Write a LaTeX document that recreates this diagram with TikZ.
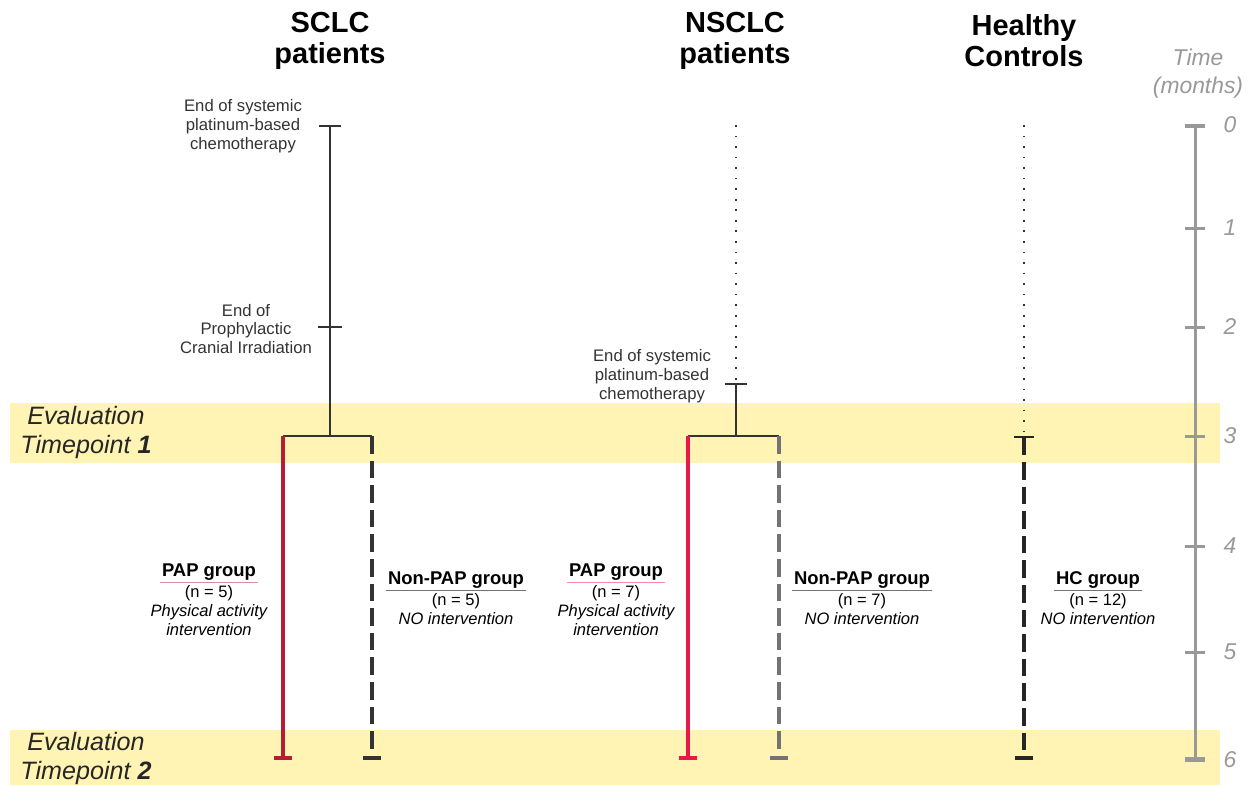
\documentclass[tikz,border=0pt]{standalone}
\usepackage{fontspec}
\setmainfont{Liberation Sans}
\usetikzlibrary{positioning, arrows.meta}
\definecolor{bandyellow}{HTML}{FFF4B3}
\definecolor{axisgrey}{HTML}{999999}
\definecolor{sclcred}{HTML}{B21E36}
\definecolor{nsclcred}{HTML}{E8194A}
\definecolor{textgrey}{HTML}{333333}

\begin{document}
\begin{tikzpicture}[x=0.02cm, y=-0.02cm,
    header/.style={font=\fontsize{16.5}{17.6}\selectfont\bfseries, align=center},
    note/.style={font=\fontsize{9.5}{10.8}\selectfont, text=textgrey, align=center, inner sep=0pt},
    grouptitle/.style={font=\fontsize{10.5}{12}\selectfont\bfseries, inner sep=1pt},
    groupsub/.style={font=\fontsize{9.4}{10.8}\selectfont, align=center, inner sep=0pt},
    evaltext/.style={font=\fontsize{14.3}{16.5}\selectfont\itshape, text=black!85, align=center},
    thinline/.style={line width=1.1pt, textgrey},
    thickline/.style={line width=2.4pt},
    dashline/.style={line width=2.4pt, dash pattern=on 10pt off 4pt},
    dotline/.style={line width=1pt, dash pattern=on 1pt off 5pt},
    axisline/.style={line width=1.7pt, axisgrey}]
    \useasboundingbox (0,0) rectangle (1250,785);

    % evaluation bands
    \fill[bandyellow] (10,403) rectangle (1220,463);
    \fill[bandyellow] (10,730) rectangle (1220,785);
    \node (EvalOne) [evaltext] at (86,432) {Evaluation\\Timepoint \textbf{1}};
    \node (EvalTwo) [evaltext] at (86,758) {Evaluation\\Timepoint \textbf{2}};

    % headers
    \node (SclcHead) [header] at (330,41) {SCLC\\patients};
    \node (NsclcHead) [header] at (735,41) {NSCLC\\patients};
    \node (HcHead) [header] at (1024,41) {Healthy\\Controls};
    \node (TimeHead) [font=\fontsize{13}{16}\selectfont\itshape, text=axisgrey, align=center] at (1198,74) {Time\\(months)};

    % time axis
    \coordinate (TimeZero) at (1195,125);
    \coordinate (TimeSix) at (1195,760);
    \draw[axisline, {Bar[width=11pt]}-{Bar[width=11pt]}] (TimeZero) -- (TimeSix);
    \foreach \m/\y in {0/125,1/228,2/327,3/436,4/546,5/652,6/760} {
        \draw[axisline] (1185,\y) -- (1205,\y);
        \node (Month\m) [font=\fontsize{13}{16}\selectfont\itshape, text=axisgrey] at (1230,\y) {\m};
    }

    % SCLC branch
    \coordinate (ScStart) at (330,125);
    \coordinate (ScIrr) at (330,327);
    \coordinate (ScSplit) at (330,436);
    \coordinate (ScPapTop) at (283,436);
    \coordinate (ScPapEnd) at (283,760);
    \coordinate (ScNonTop) at (372,436);
    \coordinate (ScNonEnd) at (372,760);
    \draw[thinline, {Bar[width=13pt]}-] (ScStart) -- (ScSplit);
    \draw[thinline] (ScIrr) ++(-12,0) -- ++(24,0);
    \draw[thinline] (ScPapTop) -- (ScNonTop);
    \draw[thickline, sclcred, -{Bar[width=10pt]}] (ScPapTop) -- (ScPapEnd);
    \draw[dashline, textgrey, -{Bar[width=10pt]}] (ScNonTop) -- (ScNonEnd);
    \node (ScChemo) [note] at (243,126) {End of systemic\\platinum-based\\chemotherapy};
    \node (ScPci) [note] at (246,329) {End of\\Prophylactic\\Cranial Irradiation};

    % NSCLC branch
    \coordinate (NsStart) at (736,125);
    \coordinate (NsChemoEnd) at (736,383);
    \coordinate (NsSplit) at (736,436);
    \coordinate (NsPapTop) at (688,436);
    \coordinate (NsPapEnd) at (688,760);
    \coordinate (NsNonTop) at (779,436);
    \coordinate (NsNonEnd) at (779,760);
    \draw[dotline, textgrey] (NsStart) -- (NsChemoEnd);
    \draw[thinline, {Bar[width=13pt]}-] (NsChemoEnd) -- (NsSplit);
    \draw[thinline] (NsPapTop) -- (NsNonTop);
    \draw[thickline, nsclcred, -{Bar[width=10pt]}] (NsPapTop) -- (NsPapEnd);
    \draw[dashline, black!55, -{Bar[width=10pt]}] (NsNonTop) -- (NsNonEnd);
    \node (NsChemo) [note] at (652,376) {End of systemic\\platinum-based\\chemotherapy};

    % healthy controls
    \coordinate (HcStart) at (1024,125);
    \coordinate (HcTop) at (1024,436);
    \coordinate (HcEnd) at (1024,760);
    \draw[dotline, textgrey] (HcStart) -- (HcTop);
    \draw[dashline, black!85, {Bar[width=11pt,line width=1.1pt]}-{Bar[width=10pt]}] (HcTop) -- (HcEnd);

    % group labels
    \node (ScPap) [grouptitle] at (209,572) {PAP group};
    \draw[sclcred!50, line width=0.6pt] (ScPap.south west) -- (ScPap.south east);
    \node (ScPapInfo) [groupsub, below=1.5pt of ScPap] {(n = 5)\\\itshape Physical activity\\\itshape intervention};

    \node (ScNon) [grouptitle] at (456,580) {Non-PAP group};
    \draw[black!55, line width=0.6pt] (ScNon.south west) -- (ScNon.south east);
    \node (ScNonInfo) [groupsub, below=1.5pt of ScNon] {(n = 5)\\\itshape NO intervention};

    \node (NsPap) [grouptitle] at (616,572) {PAP group};
    \draw[nsclcred!50, line width=0.6pt] (NsPap.south west) -- (NsPap.south east);
    \node (NsPapInfo) [groupsub, below=1.5pt of NsPap] {(n = 7)\\\itshape Physical activity\\\itshape intervention};

    \node (NsNon) [grouptitle] at (862,580) {Non-PAP group};
    \draw[black!55, line width=0.6pt] (NsNon.south west) -- (NsNon.south east);
    \node (NsNonInfo) [groupsub, below=1.5pt of NsNon] {(n = 7)\\\itshape NO intervention};

    \node (HcGroup) [grouptitle] at (1098,580) {HC group};
    \draw[black!55, line width=0.6pt] (HcGroup.south west) -- (HcGroup.south east);
    \node (HcInfo) [groupsub, below=1.5pt of HcGroup] {(n = 12)\\\itshape NO intervention};
\end{tikzpicture}
\end{document}
